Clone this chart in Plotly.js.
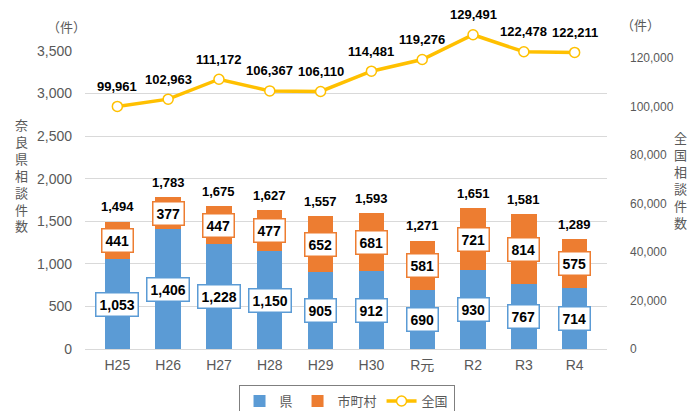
<!DOCTYPE html>
<html>
<head>
<meta charset="utf-8">
<script src="https://cdn.plot.ly/plotly-3.0.1.min.js"></script>
<style>html,body{margin:0;padding:0;background:#fff;}#chart{width:690px;height:411px;}</style>
</head>
<body>
<div id="chart"></div>
<script>
const categories = ['H25','H26','H27','H28','H29','H30','R元','R2','R3','R4'];
const prefValues = [1053,1406,1228,1150,905,912,690,930,767,714];
const muniValues = [441,377,447,477,652,681,581,721,814,575];
const nationalValues = [99961,102963,111172,106367,106110,114481,119276,129491,122478,122211];
const seriesNames = ['県','市町村','全国'];

const BLUE = '#5B9BD5', ORANGE = '#ED7D31', GOLD = '#FFC000', GRAY = '#595959';
const JP = '"Liberation Sans", Arial, "Noto Sans CJK JP", sans-serif';
const LBL = '"Liberation Sans", Arial, sans-serif';

const totals = prefValues.map((v, i) => v + muniValues[i]);
const fmt = v => v.toLocaleString('en-US');

// plot area: top 10px, bottom 349px -> 339px; left axis occupies lower 298px
const LEFT_DOMAIN_TOP = 298 / 339;
const RIGHT_MAX = 122800 * 339 / 298;

const traces = [
  {type:'bar', name:seriesNames[0], x:categories, y:prefValues, marker:{color:BLUE}, hoverinfo:'skip'},
  {type:'bar', name:seriesNames[1], x:categories, y:muniValues, marker:{color:ORANGE}, hoverinfo:'skip'},
  {type:'scatter', mode:'lines+markers', name:seriesNames[2], x:categories, y:nationalValues, yaxis:'y2',
   line:{color:GOLD, width:3.5}, marker:{size:10, color:'#FFFFFF', line:{color:GOLD, width:1.5}},
   cliponaxis:false, hoverinfo:'skip'}
];

const annotations = [];
categories.forEach((c, i) => {
  annotations.push({x:c, y:prefValues[i]/2, xref:'x', yref:'y', text:'<b>'+fmt(prefValues[i])+'</b>', showarrow:false,
    font:{family:LBL, size:14, color:'#000'}, bgcolor:'#FFFFFF', bordercolor:BLUE, borderwidth:1.5, borderpad:3});
  annotations.push({x:c, y:prefValues[i] + muniValues[i]/2, xref:'x', yref:'y', text:'<b>'+fmt(muniValues[i])+'</b>', showarrow:false,
    font:{family:LBL, size:14, color:'#000'}, bgcolor:'#FFFFFF', bordercolor:ORANGE, borderwidth:1.5, borderpad:3});
  annotations.push({x:c, y:totals[i], xref:'x', yref:'y', yshift:15, text:'<b>'+fmt(totals[i])+'</b>', showarrow:false,
    font:{family:LBL, size:13, color:'#000'}});
  annotations.push({x:c, y:nationalValues[i], xref:'x', yref:'y2', yshift:20, text:'<b>'+fmt(nationalValues[i])+'</b>', showarrow:false,
    font:{family:LBL, size:13, color:'#000'}});
});
const JPF = '"Noto Sans CJK JP", sans-serif';
annotations.push({xref:'paper', yref:'paper', x:-0.1226, y:0.513, text:'奈<br>良<br>県<br>相<br>談<br>件<br>数', showarrow:false,
  font:{family:JPF, size:13, color:GRAY}, xanchor:'center', yanchor:'middle'});
annotations.push({xref:'paper', yref:'paper', x:1.140, y:0.4985, text:'全<br>国<br>相<br>談<br>件<br>数', showarrow:false,
  font:{family:JPF, size:13, color:GRAY}, xanchor:'center', yanchor:'middle'});
annotations.push({xref:'paper', yref:'paper', x:-0.0345, y:0.950, text:'（件）', showarrow:false,
  font:{family:JPF, size:13, color:GRAY}, xanchor:'center', yanchor:'middle'});
annotations.push({xref:'paper', yref:'paper', x:1.065, y:0.956, text:'（件）', showarrow:false,
  font:{family:JPF, size:13, color:GRAY}, xanchor:'center', yanchor:'middle'});

const layout = {
  width:690, height:411,
  margin:{l:85, r:83, t:10, b:62},
  paper_bgcolor:'#FFFFFF', plot_bgcolor:'rgba(0,0,0,0)',
  barmode:'stack', bargap:0.5,
  showlegend:true,
  legend:{orientation:'h', traceorder:'normal', x:0.501, xanchor:'center', xref:'paper',
    y:(411-385)/411, yanchor:'top', yref:'container',
    font:{family:JP, size:13, color:GRAY}, bordercolor:'#7F7F7F', borderwidth:1, bgcolor:'#FFFFFF'},
  xaxis:{type:'category', showgrid:false, zeroline:false, showline:false, ticks:'',
    tickfont:{family:JP, size:14, color:GRAY}, ticklabelstandoff:6},
  yaxis:{domain:[0, LEFT_DOMAIN_TOP], range:[0,3500], dtick:500, tickformat:',d', showgrid:true, gridcolor:'#D9D9D9', gridwidth:1,
    zeroline:true, zerolinecolor:'#D9D9D9', zerolinewidth:1, showline:false, ticks:'',
    tickfont:{family:JP, size:14, color:GRAY}, ticklabelstandoff:12},
  yaxis2:{domain:[0,1], anchor:'x', side:'right', range:[0,RIGHT_MAX], tickvals:[0,20000,40000,60000,80000,100000,120000],
    tickformat:',d', showgrid:false, zeroline:false, showline:false, ticks:'',
    tickfont:{family:JP, size:12, color:GRAY}, ticklabelstandoff:22},
  annotations:annotations
};

Plotly.newPlot('chart', traces, layout, {displayModeBar:false, staticPlot:true});
</script>
</body>
</html>
